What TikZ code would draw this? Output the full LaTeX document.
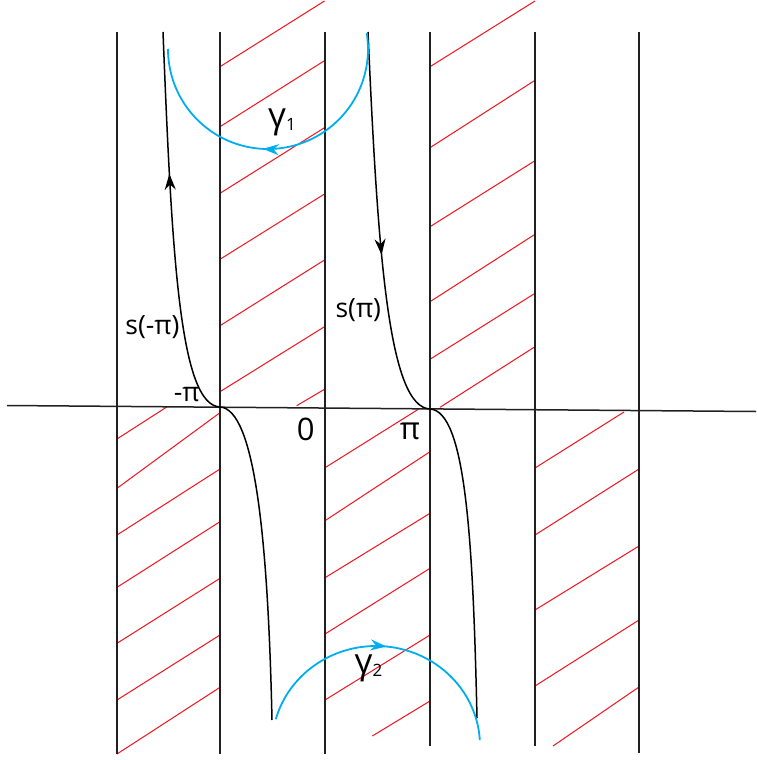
\documentclass[tikz,border=0pt]{standalone}
\usepackage{fontspec}
\setmainfont{Open Sans}
\usetikzlibrary{arrows.meta,decorations.markings}
\definecolor{hatchred}{RGB}{237,28,36}
\definecolor{gblue}{RGB}{0,174,239}
\definecolor{linegray}{RGB}{35,31,32}
\begin{document}
\begin{tikzpicture}[x=1pt,y=-1pt,
  wall/.style={draw=linegray, line width=1.5pt},
  hatch/.style={draw=hatchred, line width=1.05pt},
  curve/.style={draw=black, line width=1.5pt},
  loopc/.style={draw=gblue, line width=1.8pt},
  lbl/.style={font=\fontsize{26.5}{30}\selectfont, inner sep=0pt},
  biglbl/.style={font=\fontsize{31}{35}\selectfont, inner sep=0pt},
  glbl/.style={font=\fontsize{35}{38}\selectfont, inner sep=0pt, anchor=base west},
  midarrow/.style={postaction={decorate}, decoration={markings, mark=at position #1 with {\arrow{Stealth[length=16pt,width=11pt]}}}}
]
\useasboundingbox (0,0) rectangle (756,760);

% hatching, strip between x=220 and x=325 (upper half)
\draw[hatch] (220,66.7) -- (324.5,1);
\draw[hatch] (220,126.7) -- (324.5,60.7);
\draw[hatch] (220,193.3) -- (324.5,127.7);
\draw[hatch] (220,259.3) -- (324.5,194);
\draw[hatch] (220,325.7) -- (324.5,260);
\draw[hatch] (220,391.7) -- (324.5,326.7);
\draw[hatch] (296.7,405.7) -- (324.5,389.3);
% strip between x=430 and x=535 (upper half)
\draw[hatch] (430,66.7) -- (535,1);
\draw[hatch] (430,147.7) -- (535,80.3);
\draw[hatch] (430,226.7) -- (535,160.7);
\draw[hatch] (430,301.7) -- (535,234.3);
\draw[hatch] (430,359.3) -- (535,293.3);
\draw[hatch] (440,407.3) -- (535,346.7);
% strip between x=117 and x=220 (lower half)
\draw[hatch] (117,439) -- (166.7,407);
\draw[hatch] (117,488.3) -- (220,412.7);
\draw[hatch] (117,535) -- (220,469);
\draw[hatch] (117,587.3) -- (220,521.7);
\draw[hatch] (117,643.3) -- (220,578.3);
\draw[hatch] (117,700) -- (220,635);
\draw[hatch] (117,754) -- (220,687.3);
% strip between x=325 and x=430 (lower half)
\draw[hatch] (325,467.7) -- (418.3,409.3);
\draw[hatch] (325,520.7) -- (430,451.7);
\draw[hatch] (325,577.7) -- (430,513.3);
\draw[hatch] (325,634) -- (430,568.3);
\draw[hatch] (325,700) -- (430,635);
\draw[hatch] (372.3,736) -- (430,701);
% strip between x=535 and x=639 (lower half)
\draw[hatch] (535,468) -- (624,412);
\draw[hatch] (535,535) -- (639,469);
\draw[hatch] (535,610) -- (639,546);
\draw[hatch] (535,686) -- (639,620);
\draw[hatch] (553,746) -- (639,687);

% vertical lines
\draw[wall] (117,32) -- (117,754);
\draw[wall] (220,32) -- (220,754);
\draw[wall] (325,32) -- (325,754);
\draw[wall] (430,32) -- (430,746);
\draw[wall] (535,32) -- (535,746);
\draw[wall] (639,32) -- (639,753);

% real axis
\coordinate (axL) at (7,405.5);
\coordinate (axR) at (756,411.5);
\draw[wall] (axL) -- (axR);

% curve s(-pi)
\coordinate (c1top) at (163,32);
\coordinate (c1mid) at (220,407);
\coordinate (c1bot) at (272,720);
\draw[curve] (c1bot) .. controls (268,540) and (255,409) .. (c1mid);
\draw[curve, midarrow=0.635] (c1mid) .. controls (180,405) and (172,260) .. (c1top);

% curve s(pi)
\coordinate (c2top) at (368,32);
\coordinate (c2mid) at (430,409);
\coordinate (c2bot) at (477,718);
\draw[curve, midarrow=0.57] (c2top) .. controls (378,260) and (389,407) .. (c2mid);
\draw[curve] (c2mid) .. controls (466,411) and (473,542) .. (c2bot);

% gamma_1 loop
\draw[loopc, midarrow=0.54] plot[domain=0:189.2, samples=150]
  ({268+100*cos(369.2-\x)}, {49-100*sin(369.2-\x)});
% gamma_2 loop
\draw[loopc, midarrow=0.5] plot[domain=0:161.1, samples=150]
  ({376+104*cos(164.5-\x)}, {746-100*sin(164.5-\x)});

% labels
\node[lbl] (sm) at (152.5,327) {s(-π)};
\node[lbl] (sp) at (358.3,310) {s(π)};
\node[lbl] (mpi) at (186.7,395) {-π};
\node[biglbl] (zero) at (305.8,429) {0};
\node[biglbl] (pi) at (410,431) {π};
\node[glbl] (g1) at (268,127.5) {γ\raisebox{-3pt}{\fontsize{17}{17}\selectfont 1}};
\node[glbl] (g2) at (354.5,673) {γ\raisebox{-3pt}{\fontsize{17}{17}\selectfont 2}};
\end{tikzpicture}
\end{document}
